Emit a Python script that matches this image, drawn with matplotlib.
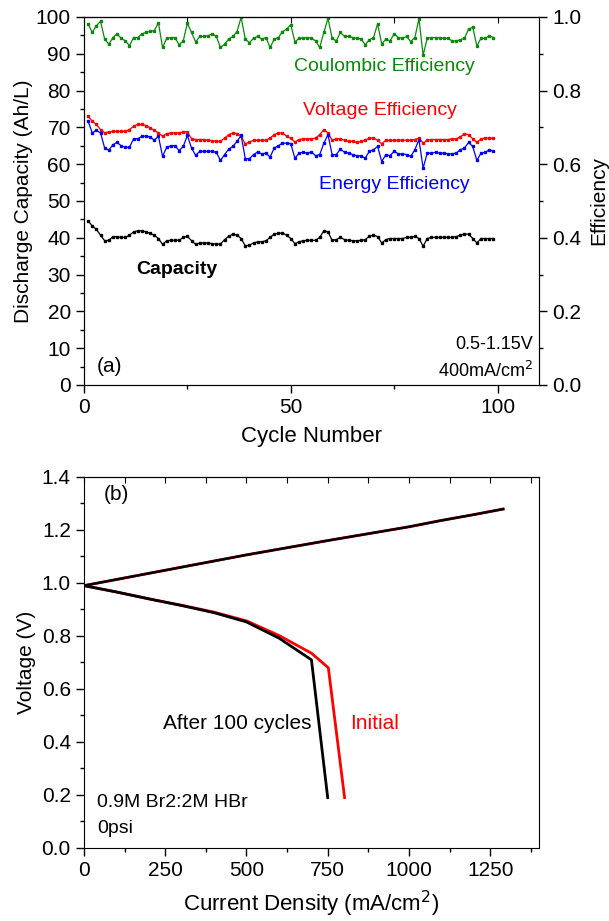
import matplotlib
matplotlib.use("Agg")
import matplotlib.pyplot as plt
import numpy as np
from matplotlib.ticker import MultipleLocator

plt.rcParams['font.family'] = ['Liberation Sans', 'DejaVu Sans']

# ---------------- Panel (a) data ----------------
cycles = list(range(1, 100))
coulombic_eff = [0.981, 0.958, 0.976, 0.988, 0.940, 0.926, 0.944, 0.954, 0.942, 0.935,
                 0.922, 0.944, 0.944, 0.954, 0.958, 0.961, 0.963, 0.984, 0.917, 0.942,
                 0.944, 0.944, 0.924, 0.935, 0.983, 0.958, 0.932, 0.947, 0.947, 0.949,
                 0.954, 0.947, 0.917, 0.926, 0.940, 0.947, 0.960, 0.999, 0.940, 0.930,
                 0.942, 0.947, 0.940, 0.944, 0.917, 0.940, 0.944, 0.960, 0.967, 0.979,
                 0.932, 0.942, 0.943, 0.944, 0.942, 0.935, 0.917, 0.958, 0.996, 0.942,
                 0.935, 0.958, 0.947, 0.947, 0.944, 0.942, 0.940, 0.924, 0.938, 0.944,
                 0.981, 0.926, 0.940, 0.935, 0.954, 0.944, 0.942, 0.947, 0.933, 0.944,
                 0.995, 0.896, 0.942, 0.944, 0.944, 0.944, 0.942, 0.942, 0.935, 0.935,
                 0.938, 0.942, 0.967, 0.972, 0.921, 0.942, 0.942, 0.949, 0.944]
voltage_eff = [0.730, 0.717, 0.708, 0.694, 0.685, 0.688, 0.689, 0.689, 0.689, 0.689,
               0.694, 0.703, 0.708, 0.708, 0.705, 0.699, 0.692, 0.685, 0.676, 0.683,
               0.685, 0.685, 0.685, 0.688, 0.688, 0.669, 0.667, 0.667, 0.667, 0.665,
               0.664, 0.662, 0.662, 0.671, 0.680, 0.685, 0.683, 0.676, 0.655, 0.660,
               0.665, 0.665, 0.665, 0.665, 0.671, 0.680, 0.685, 0.685, 0.676, 0.670,
               0.660, 0.667, 0.669, 0.669, 0.669, 0.671, 0.680, 0.694, 0.685, 0.665,
               0.669, 0.669, 0.665, 0.662, 0.662, 0.659, 0.662, 0.665, 0.671, 0.671,
               0.665, 0.655, 0.665, 0.665, 0.665, 0.665, 0.665, 0.665, 0.665, 0.667,
               0.671, 0.657, 0.665, 0.667, 0.667, 0.667, 0.667, 0.667, 0.669, 0.669,
               0.674, 0.683, 0.680, 0.669, 0.659, 0.669, 0.671, 0.671, 0.671]
energy_eff = [0.717, 0.685, 0.692, 0.685, 0.644, 0.638, 0.653, 0.659, 0.650, 0.646,
              0.646, 0.669, 0.669, 0.676, 0.676, 0.674, 0.665, 0.676, 0.621, 0.646,
              0.650, 0.650, 0.637, 0.648, 0.678, 0.644, 0.624, 0.635, 0.635, 0.635,
              0.635, 0.632, 0.610, 0.626, 0.641, 0.648, 0.662, 0.678, 0.615, 0.615,
              0.626, 0.633, 0.628, 0.630, 0.619, 0.644, 0.650, 0.657, 0.657, 0.656,
              0.616, 0.630, 0.632, 0.630, 0.633, 0.623, 0.626, 0.657, 0.680, 0.626,
              0.626, 0.641, 0.632, 0.630, 0.626, 0.623, 0.623, 0.616, 0.635, 0.639,
              0.648, 0.607, 0.626, 0.623, 0.635, 0.628, 0.628, 0.626, 0.621, 0.639,
              0.667, 0.589, 0.630, 0.630, 0.632, 0.630, 0.630, 0.628, 0.628, 0.630,
              0.639, 0.644, 0.659, 0.648, 0.610, 0.630, 0.632, 0.639, 0.635]
capacity = [44.6, 43.2, 42.3, 40.7, 39.2, 39.3, 40.3, 40.3, 40.1, 40.1,
            40.7, 41.6, 41.9, 41.9, 41.6, 41.2, 40.7, 39.8, 38.2, 39.2,
            39.3, 39.3, 39.3, 40.1, 40.4, 39.2, 38.2, 38.6, 38.6, 38.6,
            38.4, 38.3, 38.3, 39.5, 40.4, 41.0, 40.7, 39.8, 37.8, 38.0,
            38.6, 38.9, 38.9, 39.2, 40.1, 41.0, 41.2, 41.3, 40.7, 39.8,
            38.4, 38.9, 39.2, 39.3, 39.3, 39.3, 40.1, 41.9, 41.6, 39.3,
            39.5, 40.1, 39.5, 39.3, 39.2, 39.2, 39.3, 39.5, 40.4, 40.7,
            40.3, 38.6, 39.5, 39.8, 39.8, 39.8, 39.8, 40.1, 40.1, 40.4,
            39.8, 37.7, 39.8, 40.1, 40.1, 40.1, 40.1, 40.1, 40.1, 40.3,
            40.7, 41.0, 41.0, 39.8, 38.6, 39.8, 39.8, 39.8, 39.8]

# ---------------- Panel (b) data ----------------
charge_current = [0, 250, 500, 750, 1000, 1100, 1200, 1290]
charge_voltage = [0.99, 1.048, 1.106, 1.160, 1.212, 1.236, 1.258, 1.279]
after_current = [0, 100, 200, 300, 400, 500, 600, 700, 750]
after_voltage = [0.99, 0.966, 0.940, 0.915, 0.888, 0.853, 0.792, 0.710, 0.19]
init_current = [0, 100, 200, 300, 400, 500, 600, 700, 752, 802]
init_voltage = [0.99, 0.966, 0.940, 0.916, 0.890, 0.857, 0.802, 0.735, 0.680, 0.19]

GREEN = '#0a8a0a'
RED = '#ff0000'
BLUE = '#0000ff'

fig = plt.figure(figsize=(6.09, 9.21), dpi=100)
axA = fig.add_axes([0.1379, 0.582, 0.747, 0.3996])
axB = fig.add_axes([0.1379, 0.0793, 0.747, 0.4028])

TS = 15
LW = 0.9
MS = 1.5
# ----- panel (a)
axA.set_xlim(0, 110)
axA.set_ylim(0, 100)
axA.plot(cycles, capacity, '-s', color='black', lw=LW, ms=MS)
axE = axA.twinx()
axE.set_ylim(0, 1.0)
axE.plot(cycles, coulombic_eff, '-s', color=GREEN, lw=LW, ms=MS)
axE.plot(cycles, voltage_eff, '-s', color=RED, lw=LW, ms=MS)
axE.plot(cycles, energy_eff, '-s', color=BLUE, lw=LW, ms=MS)

axA.xaxis.set_major_locator(MultipleLocator(50))
axA.xaxis.set_minor_locator(MultipleLocator(25))
axA.yaxis.set_major_locator(MultipleLocator(10))
axA.yaxis.set_minor_locator(MultipleLocator(5))
axA.tick_params(axis='both', which='major', direction='out', length=6, width=1,
                labelsize=TS, top=False, right=False)
axA.tick_params(axis='both', which='minor', direction='out', length=3, width=1,
                top=False, right=False)
axE.yaxis.set_major_locator(MultipleLocator(0.2))
axE.yaxis.set_minor_locator(MultipleLocator(0.1))
axE.tick_params(axis='y', which='major', direction='out', length=6, width=1, labelsize=TS)
axE.tick_params(axis='y', which='minor', direction='out', length=3, width=1)
axE.yaxis.set_major_formatter(matplotlib.ticker.FormatStrFormatter('%.1f'))
secA = axA.secondary_xaxis('top')
secA.set_xticks([25, 50, 75, 100])
secA.tick_params(direction='in', length=4, labeltop=False)
secA.set_xticklabels([])

axA.set_xlabel('Cycle Number', fontsize=16, labelpad=6)
axA.set_ylabel('Discharge Capacity (Ah/L)', fontsize=15, labelpad=2)
axE.set_ylabel('Efficiency', fontsize=15, labelpad=6)

axA.text(72.6, 86.6, 'Coulombic Efficiency', color=GREEN, fontsize=14, ha='center', va='center')
axA.text(71.6, 74.7, 'Voltage Efficiency', color=RED, fontsize=14, ha='center', va='center')
axA.text(75, 54.4, 'Energy Efficiency', color=BLUE, fontsize=14, ha='center', va='center')
axA.text(22.5, 31.5, 'Capacity', color='black', fontsize=14, fontweight='bold', ha='center', va='center')
axA.text(3.2, 5, '(a)', fontsize=15, ha='left', va='center')
axA.text(108.5, 11, '0.5-1.15V', fontsize=13, ha='right', va='center')
axA.text(108.5, 3.7, '400mA/cm$^2$', fontsize=13, ha='right', va='center')

# ----- panel (b)
axB.set_xlim(0, 1400)
axB.set_ylim(0, 1.4)
axB.plot(charge_current, charge_voltage, color=RED, lw=2.0)
axB.plot(init_current, init_voltage, color=RED, lw=2.0)
axB.plot(charge_current, charge_voltage, color='black', lw=1.8)
axB.plot(after_current, after_voltage, color='black', lw=2.0)

axB.xaxis.set_major_locator(MultipleLocator(250))
axB.xaxis.set_minor_locator(MultipleLocator(125))
axB.yaxis.set_major_locator(MultipleLocator(0.2))
axB.yaxis.set_minor_locator(MultipleLocator(0.1))
axB.yaxis.set_major_formatter(matplotlib.ticker.FormatStrFormatter('%.1f'))
axB.tick_params(axis='both', which='major', direction='out', length=6, width=1, labelsize=TS)
axB.tick_params(axis='both', which='minor', direction='out', length=3, width=1)
secB = axB.secondary_xaxis('top')
secB.xaxis.set_major_locator(MultipleLocator(125))
secB.tick_params(direction='in', length=4, labeltop=False)
secB.set_xticklabels([])

axB.set_xlabel('Current Density (mA/cm$^2$)', fontsize=16, labelpad=6)
axB.set_ylabel('Voltage (V)', fontsize=15, labelpad=4)

axB.text(60, 1.335, '(b)', fontsize=15, ha='left', va='center')
axB.text(700, 0.468, 'After 100 cycles', fontsize=15, ha='right', va='center')
axB.text(818, 0.468, 'Initial', fontsize=15, color=RED, ha='left', va='center')
axB.text(40, 0.17, '0.9M Br2:2M HBr', fontsize=14, ha='left', va='center')
axB.text(40, 0.072, '0psi', fontsize=14, ha='left', va='center')

fig.savefig('out.png', dpi=100)
